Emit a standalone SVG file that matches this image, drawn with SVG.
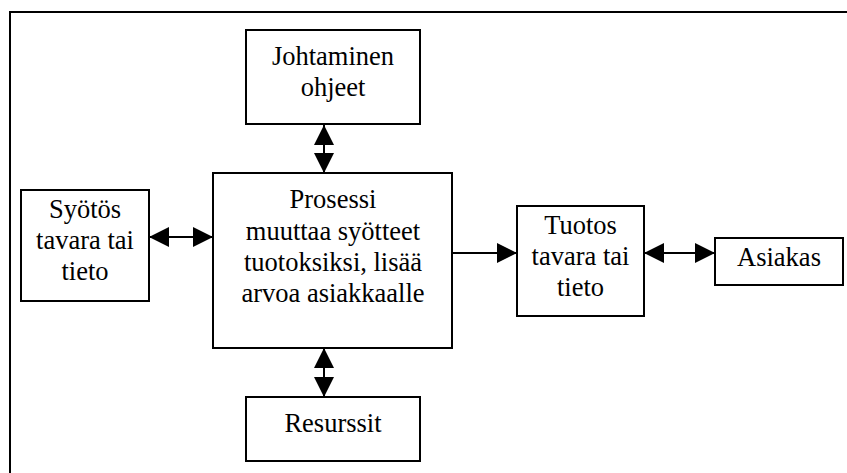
<svg xmlns="http://www.w3.org/2000/svg" width="847" height="473" viewBox="0 0 847 473">
<style>
.box{fill:#fff;stroke:#000;stroke-width:2}
text{font-family:'Liberation Serif','Times New Roman',serif;font-size:26.5px;fill:#000;text-anchor:middle}
.c{stroke:#000;stroke-width:2;fill:none}
</style>
<defs>
<marker id="ah" viewBox="0 0 20 20" markerUnits="userSpaceOnUse" markerWidth="20" markerHeight="20" refX="20" refY="10" orient="auto-start-reverse">
<path d="M0,0 L20,10 L0,20 Z" fill="#000"/>
</marker>
</defs>
<rect x="10" y="12" width="850" height="470" fill="#fff" stroke="#000" stroke-width="2"/>
<g id="connectors">
<line class="c" x1="149" y1="237" x2="213" y2="237" marker-start="url(#ah)" marker-end="url(#ah)"/>
<line class="c" x1="324" y1="125" x2="324" y2="173" marker-start="url(#ah)" marker-end="url(#ah)"/>
<line class="c" x1="452" y1="253" x2="517" y2="253" marker-end="url(#ah)"/>
<line class="c" x1="644" y1="253" x2="715" y2="253" marker-start="url(#ah)" marker-end="url(#ah)"/>
<line class="c" x1="324" y1="348" x2="324" y2="397" marker-start="url(#ah)" marker-end="url(#ah)"/>
</g>
<g id="johtaminen">
<rect class="box" x="246" y="30" width="174" height="94"/>
<text x="333" y="65">Johtaminen</text>
<text x="333" y="96">ohjeet</text>
</g>
<g id="prosessi">
<rect class="box" x="213" y="173" width="239" height="175"/>
<text x="333" y="208">Prosessi</text>
<text x="333" y="240">muuttaa syötteet</text>
<text x="333" y="271">tuotoksiksi, lisää</text>
<text x="333" y="302">arvoa asiakkaalle</text>
</g>
<g id="syotos">
<rect class="box" x="21" y="190" width="128" height="111"/>
<text x="85" y="218">Syötös</text>
<text x="85" y="249">tavara tai</text>
<text x="85" y="280">tieto</text>
</g>
<g id="tuotos">
<rect class="box" x="517" y="206" width="127" height="110"/>
<text x="580.5" y="234">Tuotos</text>
<text x="580.5" y="265">tavara tai</text>
<text x="580.5" y="296">tieto</text>
</g>
<g id="asiakas">
<rect class="box" x="715" y="238" width="128" height="47"/>
<text x="779" y="266">Asiakas</text>
</g>
<g id="resurssit">
<rect class="box" x="246" y="397" width="174" height="64"/>
<text x="333" y="432">Resurssit</text>
</g>
</svg>
